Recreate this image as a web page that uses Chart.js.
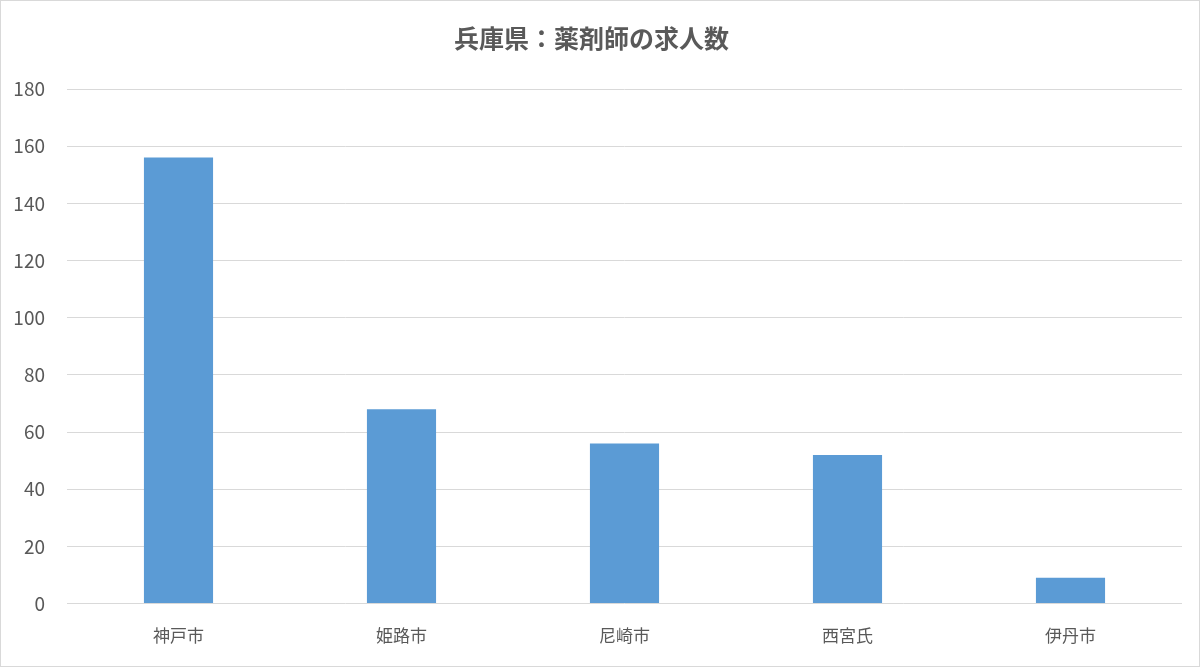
<!DOCTYPE html>
<html>
<head>
<meta charset="utf-8">
<script src="https://cdn.jsdelivr.net/npm/chart.js@4"></script>
<style>
  html, body { margin: 0; padding: 0; background: #fff; }
  #wrap { width: 1198px; height: 665px; border: 1px solid #d9d9d9; }
</style>
</head>
<body>
<div id="wrap"><canvas id="jobs" width="1198" height="665"></canvas></div>
<script>
const categories = ['神戸市', '姫路市', '尼崎市', '西宮氏', '伊丹市'];
const jobCounts = [156, 68, 56, 52, 9];
const chartTitle = '兵庫県：薬剤師の求人数';

{
  const ctx = document.getElementById('jobs').getContext('2d');
  const fontFamily = '"Noto Sans CJK JP", "Noto Sans", sans-serif';

  const config = {
    type: 'bar',
    data: {
      labels: categories,
      datasets: [{
        data: jobCounts,
        backgroundColor: '#5b9bd5',
        borderWidth: 0,
        categoryPercentage: 1,
        barPercentage: 0.31
      }]
    },
    options: {
      responsive: false,
      animation: false,
      layout: { padding: { left: 0, right: 17, top: 22, bottom: 6 } },
      plugins: {
        legend: { display: false },
        tooltip: { enabled: false },
        title: {
          display: true,
          text: chartTitle,
          color: '#595959',
          font: { family: fontFamily, size: 25, weight: 'bold' },
          padding: { top: 0, bottom: 36 }
        }
      },
      scales: {
        x: {
          grid: { display: false },
          border: { display: false },
          ticks: { color: '#595959', font: { family: fontFamily, size: 17 }, padding: 14 }
        },
        y: {
          min: 0,
          max: 180,
          ticks: { stepSize: 20, color: '#595959', font: { family: fontFamily, size: 19 }, padding: 22 },
          grid: { color: '#d9d9d9', lineWidth: 1, drawTicks: false },
          border: { display: false },
          afterFit: (scale) => { scale.width = 66; }
        }
      }
    }
  };

  var jobsChart = new Chart(ctx, config);
}
</script>
</body>
</html>
